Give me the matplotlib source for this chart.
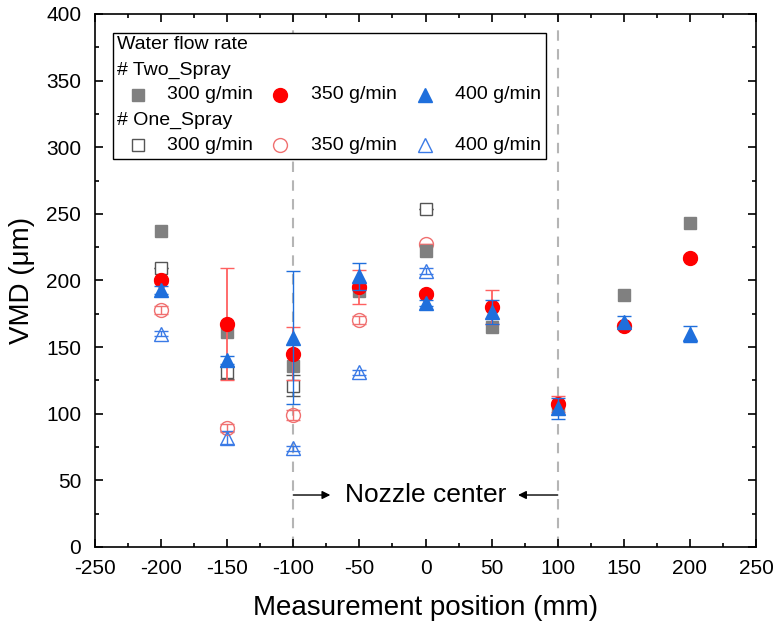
import matplotlib.pyplot as plt
from matplotlib.patches import Rectangle
from matplotlib.ticker import MultipleLocator

plt.rcParams['font.family'] = ['Liberation Sans', 'DejaVu Sans']
plt.rcParams['axes.unicode_minus'] = False

# Measurement positions (mm)
pos = [-200, -150, -100, -50, 0, 50, 100, 150, 200]
pos_one_sq = [-200, -150, -100, 0]
pos_one = [-200, -150, -100, -50, 0]

# Two_Spray VMD (um) and error
two_300 = [237, 161, 136, 192, 222, 165, 105, 189, 243]
two_350 = [200, 167, 145, 195, 190, 180, 107, 166, 217]
two_350_err = [2, 42, 20, 13, 2, 13, 6, 2, 2]
two_400 = [193, 140, 157, 203, 183, 176, 104, 169, 160]
two_400_err = [3, 3, 50, 10, 2, 9, 8, 4, 6]

# One_Spray VMD (um) and error
one_300 = [209, 131, 121, 254]
one_300_err = [0, 5, 8, 0]
one_350 = [178, 89, 99, 170, 227]
one_350_err = [3, 3, 4, 3, 0]
one_400 = [160, 82, 74, 131, 207]
one_400_err = [2, 5, 2, 2, 2]

grey = '#808080'
red = '#ff0000'
blue = '#1f6fdc'
lred = '#f07070'
lblue = '#3a7ae6'

fig = plt.figure(figsize=(7.75, 6.29), dpi=100)
ax = fig.add_axes([0.1226, 0.1304, 0.8529, 0.8474])

# guide lines for nozzle center
for xv in [-100, 100]:
    ax.axvline(xv, color='#b5b5b5', lw=1.5, ls=(0, (5, 4)), zorder=1)

# one spray (open markers)
ax.errorbar(pos_one_sq, one_300, yerr=one_300_err, fmt='s', ms=9,
            mfc='white', mec='#555555', mew=1.0, ecolor='#555555',
            elinewidth=1, capsize=5, zorder=3)
ax.errorbar(pos_one, one_350, yerr=one_350_err, fmt='o', ms=10,
            mfc='none', mec=lred, mew=1.0, ecolor=lred,
            elinewidth=1, capsize=5, zorder=3)
ax.errorbar(pos_one, one_400, yerr=one_400_err, fmt='^', ms=10,
            mfc='none', mec=lblue, mew=1.0, ecolor=lblue,
            elinewidth=1, capsize=5, zorder=3)

# two spray (filled markers)
ax.plot(pos, two_300, 's', ms=9, mfc=grey, mec=grey, ls='none', zorder=4)
ax.errorbar(pos, two_350, yerr=two_350_err, fmt='o', ms=10,
            mfc=red, mec=red, ecolor='#ff6060', elinewidth=1.3, capsize=5, zorder=5)
ax.errorbar(pos, two_400, yerr=two_400_err, fmt='^', ms=10,
            mfc=blue, mec=blue, ecolor=blue, elinewidth=1, capsize=5, zorder=6)

ax.set_xlim(-250, 250)
ax.set_ylim(0, 400)
ax.xaxis.set_major_locator(MultipleLocator(50))
ax.xaxis.set_minor_locator(MultipleLocator(25))
ax.yaxis.set_major_locator(MultipleLocator(50))
ax.yaxis.set_minor_locator(MultipleLocator(25))
ax.tick_params(which='both', direction='in', top=True, right=True,
               labelsize=15, width=1.2)
ax.tick_params(which='major', length=6)
ax.tick_params(which='minor', length=3)
ax.tick_params(axis='x', pad=9)
ax.tick_params(axis='y', pad=10)
for sp in ax.spines.values():
    sp.set_linewidth(1.2)
ax.set_xlabel('Measurement position (mm)', fontsize=20, labelpad=12)
ax.set_ylabel('VMD (μm)', fontsize=20, labelpad=8)

# nozzle center annotation
ax.annotate('', xy=(-72, 39), xytext=(-100, 39),
            arrowprops=dict(arrowstyle='-|>', color='black', lw=1,
                            mutation_scale=12, shrinkA=0, shrinkB=0))
ax.annotate('', xy=(70, 39), xytext=(100, 39),
            arrowprops=dict(arrowstyle='-|>', color='black', lw=1,
                            mutation_scale=12, shrinkA=0, shrinkB=0))
ax.text(0, 39, 'Nozzle center', fontsize=19, ha='center', va='center')

# legend box drawn by hand
tr = ax.transAxes
ax.add_patch(Rectangle((0.027, 0.728), 0.655, 0.236, transform=tr,
                       fill=True, fc='white', ec='black', lw=1, zorder=7))
rows = [0.942, 0.895, 0.848, 0.801, 0.754]
ax.text(0.033, rows[0], 'Water flow rate', transform=tr, fontsize=14,
        va='center', zorder=8)
ax.text(0.033, rows[1], '# Two_Spray', transform=tr, fontsize=14,
        va='center', zorder=8)
ax.text(0.033, rows[3], '# One_Spray', transform=tr, fontsize=14,
        va='center', zorder=8)
mk_x = [0.065, 0.280, 0.499]
lb_x = [0.109, 0.327, 0.545]
labels = ['300 g/min', '350 g/min', '400 g/min']
filled = [('s', grey, grey, 8), ('o', red, red, 10), ('^', blue, blue, 10)]
hollow = [('s', 'white', '#555555', 8), ('o', 'none', lred, 10),
          ('^', 'none', lblue, 10)]
for i in range(3):
    m, fc, ec, s = filled[i]
    ax.plot(mk_x[i], rows[2], m, ms=s, mfc=fc, mec=ec, transform=tr,
            clip_on=False, zorder=8)
    ax.text(lb_x[i], rows[2], labels[i], transform=tr, fontsize=14,
            va='center', zorder=8)
    m, fc, ec, s = hollow[i]
    ax.plot(mk_x[i], rows[4], m, ms=s, mfc=fc, mec=ec, mew=1, transform=tr,
            clip_on=False, zorder=8)
    ax.text(lb_x[i], rows[4], labels[i], transform=tr, fontsize=14,
            va='center', zorder=8)

fig.savefig('out.png', dpi=100)
